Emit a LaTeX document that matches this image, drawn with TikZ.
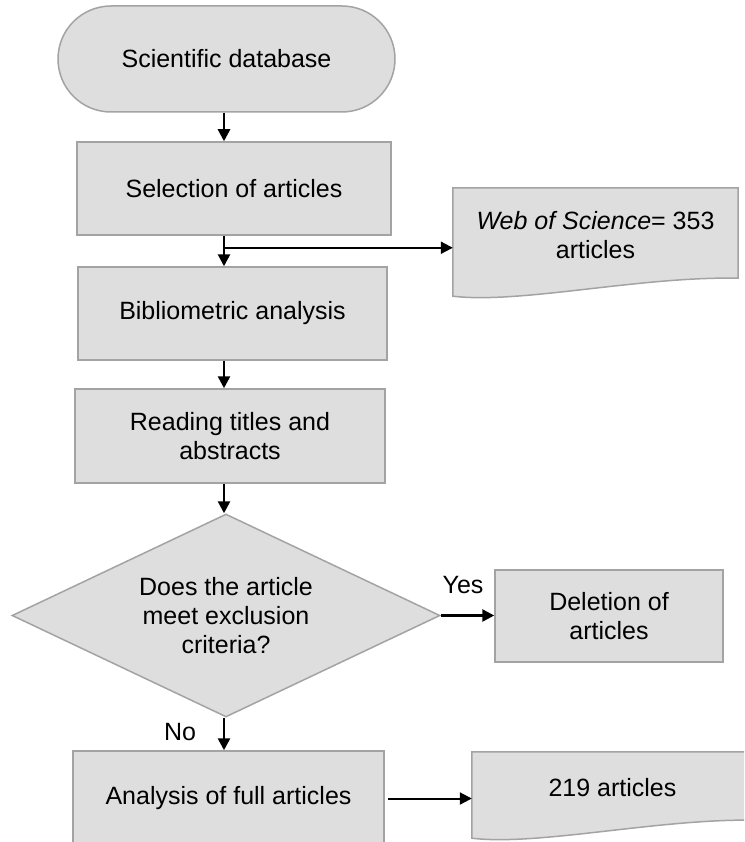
\documentclass[tikz,border=0pt]{standalone}
\usepackage{fontspec}
\setmainfont{Liberation Sans}
\usetikzlibrary{arrows.meta,shapes.geometric,calc}
\definecolor{boxfill}{HTML}{DEDEDE}
\definecolor{boxline}{HTML}{A3A3A3}
\tikzset{
  every node/.style={font=\fontsize{25}{29}\selectfont},
  procbox/.style={draw=boxline, fill=boxfill, line width=1.5pt, inner sep=0pt, align=center},
  decbox/.style={procbox, shape=diamond, aspect=2.1},
  anchorbox/.style={draw=none, inner sep=0pt},
  docbox/.style={draw=boxline, fill=boxfill, line width=1.5pt},
  plaintext/.style={align=center, inner sep=0pt},
  arr/.style={draw=black, line width=2.6pt, -{Triangle[length=12pt,width=12pt]}},
  harr/.style={draw=black, line width=2pt, -{Triangle[length=12pt,width=12pt]}},
}
\newcommand\mydocpath[1]{%
  \path[docbox] (#1.north west) -- (#1.north east) -- ([yshift=18pt]#1.south east)
    .. controls ($(#1.south east)!0.344!(#1.south west)+(0pt,20pt)$)
       and ($(#1.south west)!0.235!(#1.south east)+(0pt,-8pt)$) .. (#1.south west) -- cycle;}
\begin{document}
\begin{tikzpicture}[x=1pt,y=-1pt]
\useasboundingbox (0,0) rectangle (744,842);
\clip (0,0) rectangle (744,842);
\coordinate (cx) at (224,0);

\node[procbox, rounded corners=53pt, minimum width=337pt, minimum height=106pt] (term) at (226.5,59) {Scientific database};
\node[procbox, minimum width=314pt, minimum height=93pt] (sel) at (234,188.5) {Selection of articles};
\node[procbox, minimum width=309pt, minimum height=93pt] (bib) at (232.5,313.5) {Bibliometric analysis};
\node[procbox, minimum width=310pt, minimum height=94pt] (read) at (230,436) {Reading titles and\\abstracts};
\node[decbox, minimum width=428pt, minimum height=203pt] (dec) at (226,615.5) {Does the article\\meet exclusion\\criteria?};
\node[procbox, minimum width=228pt, minimum height=92pt] (del) at (609,616) {Deletion of\\articles};
\node[procbox, minimum width=311pt, minimum height=95pt] (ana) at (228.5,798.5) {Analysis of full articles};

\node[anchorbox, minimum width=285pt, minimum height=108pt] (wos) at (595.5,242) {};
\mydocpath{wos}
\node[plaintext] (wostext) at (595.5,235.5) {\textit{Web of Science}= 353\\articles};

\node[anchorbox, minimum width=285pt, minimum height=86pt] (res) at (614.5,795) {};
\mydocpath{res}
\node[plaintext] (restext) at (612.5,788) {219 articles};

\node[plaintext] (yes) at (463,585) {Yes};
\node[plaintext] (no) at (180,732) {No};

% connectors
\draw[arr] (term.south -| cx) -- (sel.north -| cx);
\draw[arr] (sel.south -| cx) -- (bib.north -| cx);
\coordinate (br) at ($(sel.south -| cx)+(0pt,-12pt)$);
\draw[harr] (br) -- (br -| wos.west);
\draw[arr] (bib.south -| cx) -- (read.north -| cx);
\draw[arr] (read.south -| cx) -- (dec.north -| cx);
\draw[arr] (dec.east) -- (del.west |- dec.east);
\draw[arr] (dec.south -| cx) -- (ana.north -| cx);
\draw[harr] ([xshift=3pt]ana.east) -- (ana.east -| res.west);
\end{tikzpicture}
\end{document}
